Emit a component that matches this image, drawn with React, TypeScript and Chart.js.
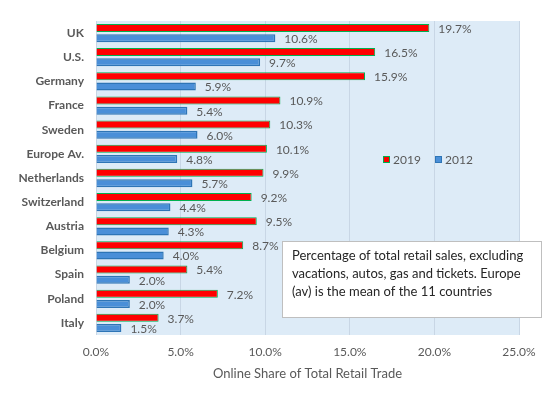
import React, { useEffect, useRef } from "react";
import { Chart, registerables } from "chart.js";

Chart.register(...registerables);

const categories = ["UK", "U.S.", "Germany", "France", "Sweden", "Europe Av.", "Netherlands", "Switzerland", "Austria", "Belgium", "Spain", "Poland", "Italy"];
const values2019 = [19.7, 16.5, 15.9, 10.9, 10.3, 10.1, 9.9, 9.2, 9.5, 8.7, 5.4, 7.2, 3.7];
const values2012 = [10.6, 9.7, 5.9, 5.4, 6.0, 4.8, 5.7, 4.4, 4.3, 4.0, 2.0, 2.0, 1.5];
const xTicks = [0, 5, 10, 15, 20, 25];
const noteLines = [
  "Percentage of total retail sales, excluding",
  "vacations, autos, gas and tickets. Europe",
  "(av) is the mean of the 11 countries",
];

const FONT = "Lato, 'Open Sans', sans-serif";
const GRAY = "#595959";

const bgPlugin = {
  id: "plotBg",
  beforeDraw(chart: any) {
    const { ctx, chartArea } = chart;
    ctx.save();
    ctx.fillStyle = "#DDEBF7";
    ctx.fillRect(chartArea.left, chartArea.top, chartArea.right - chartArea.left, chartArea.bottom - chartArea.top);
    ctx.restore();
  },
};

const labelPlugin = {
  id: "valueLabels",
  afterDatasetsDraw(chart: any) {
    const { ctx } = chart;
    ctx.save();
    ctx.font = `12px ${FONT}`;
    ctx.fillStyle = GRAY;
    ctx.textAlign = "left";
    ctx.textBaseline = "middle";
    chart.data.datasets.forEach((ds: any, i: number) => {
      const meta = chart.getDatasetMeta(i);
      meta.data.forEach((el: any, j: number) => {
        ctx.fillText(ds.data[j].toFixed(1) + "%", el.x + 9, el.y + 1);
      });
    });
    ctx.restore();
  },
};

const overlayPlugin = {
  id: "overlay",
  afterDraw(chart: any) {
    const { ctx } = chart;
    ctx.save();
    const ly = 160;
    const items = [
      { x: 383, label: "2019", fill: "#FF0000", stroke: "#00B050" },
      { x: 435, label: "2012", fill: "#4A8FD8", stroke: "#2E75B6" },
    ];
    ctx.font = `12px ${FONT}`;
    ctx.textBaseline = "middle";
    ctx.textAlign = "left";
    items.forEach((it) => {
      ctx.fillStyle = it.fill;
      ctx.fillRect(it.x, ly - 4, 7, 7);
      ctx.strokeStyle = it.stroke;
      ctx.lineWidth = 1;
      ctx.strokeRect(it.x + 0.5, ly - 3.5, 6, 6);
      ctx.fillStyle = GRAY;
      ctx.fillText(it.label, it.x + 10, ly);
    });
    const bx = 282, by = 241, bw = 260, bh = 77;
    ctx.fillStyle = "#FFFFFF";
    ctx.fillRect(bx, by, bw, bh);
    ctx.strokeStyle = "#BFBFBF";
    ctx.lineWidth = 1;
    ctx.strokeRect(bx + 0.5, by + 0.5, bw - 1, bh - 1);
    ctx.fillStyle = "#262626";
    ctx.font = `13px ${FONT}`;
    noteLines.forEach((t, i) => ctx.fillText(t, bx + 10, by + 15 + i * 18));
    ctx.restore();
  },
};

export default function App() {
  const ref = useRef<HTMLCanvasElement>(null);
  useEffect(() => {
    const chart = new Chart(ref.current!, {
      type: "bar",
      data: {
        labels: categories,
        datasets: [
          {
            label: "2019",
            data: values2019,
            backgroundColor: "#FF0000",
            borderColor: "#00B050",
            borderWidth: 1,
            categoryPercentage: 0.85,
            barPercentage: 0.78,
          },
          {
            label: "2012",
            data: values2012,
            backgroundColor: "#4A8FD8",
            borderColor: "#2E75B6",
            borderWidth: 1.5,
            categoryPercentage: 0.85,
            barPercentage: 0.78,
          },
        ],
      },
      options: {
        indexAxis: "y",
        animation: false,
        responsive: false,
        layout: { padding: { left: 0, right: 31, top: 21, bottom: 0 } },
        plugins: { legend: { display: false }, tooltip: { enabled: false } },
        scales: {
          x: {
            min: 0,
            max: 25,
            afterBuildTicks(scale: any) {
              scale.ticks = xTicks.map((v) => ({ value: v }));
            },
            afterFit(scale: any) {
              scale.height = 62;
            },
            grid: { color: "#C8D6E5", drawTicks: false, lineWidth: 1 },
            border: { display: false },
            ticks: {
              padding: 10,
              color: GRAY,
              font: { family: FONT, size: 12 },
              callback: (v: any) => Number(v).toFixed(1) + "%",
            },
            title: {
              display: true,
              text: "Online Share of Total Retail Trade",
              color: GRAY,
              font: { family: FONT, size: 13 },
              padding: { top: 0, bottom: 15 },
            },
          },
          y: {
            afterFit(scale: any) {
              scale.width = 96;
            },
            grid: { display: false, drawTicks: false },
            border: { display: false },
            ticks: {
              padding: 12,
              color: GRAY,
              font: { family: FONT, size: 12, weight: "bold" },
            },
          },
        },
      },
      plugins: [bgPlugin, labelPlugin, overlayPlugin],
    } as any);
    return () => chart.destroy();
  }, []);
  return (
    <div style={{ position: "absolute", left: 0, top: 0, width: 550, height: 397, background: "#fff" }}>
      <canvas ref={ref} width={550} height={397} />
    </div>
  );
}
